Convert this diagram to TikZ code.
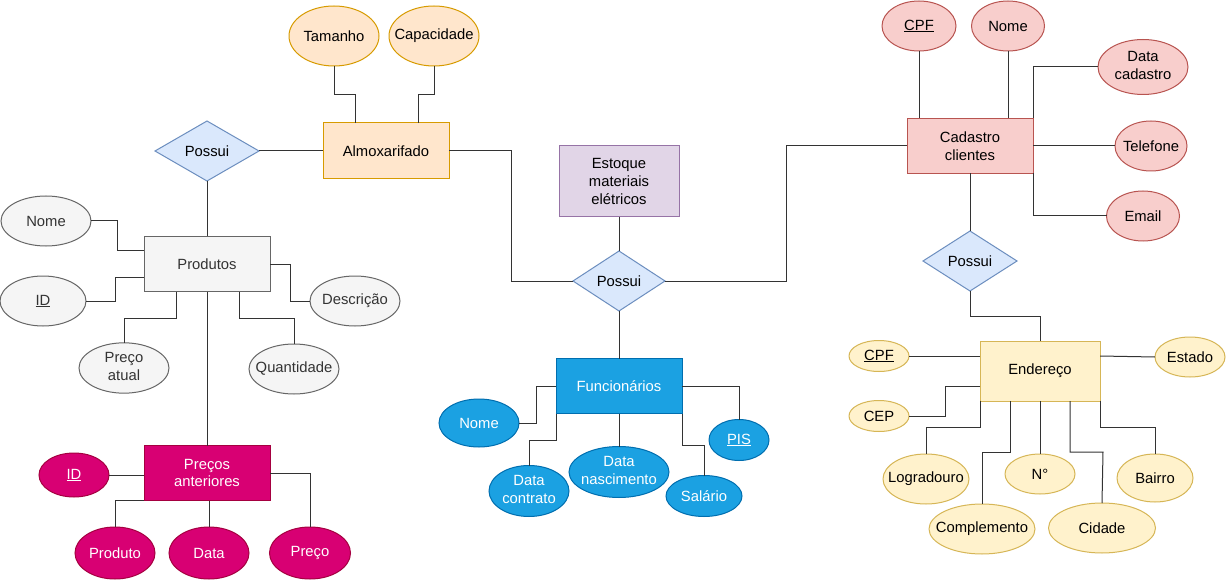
\documentclass[tikz,border=0pt]{standalone}
\usepackage{fontspec}
\setmainfont{Liberation Sans}
\usetikzlibrary{shapes.geometric}
\definecolor{orF}{HTML}{FFE6CC}\definecolor{orD}{HTML}{D79B00}
\definecolor{blF}{HTML}{DAE8FC}\definecolor{blD}{HTML}{6C8EBF}
\definecolor{grF}{HTML}{F5F5F5}\definecolor{grD}{HTML}{666666}\definecolor{grT}{HTML}{333333}
\definecolor{mgF}{HTML}{D80073}\definecolor{mgD}{HTML}{A50040}
\definecolor{puF}{HTML}{E1D5E7}\definecolor{puD}{HTML}{9673A6}
\definecolor{cyF}{HTML}{1BA1E2}\definecolor{cyD}{HTML}{006EAF}
\definecolor{rdF}{HTML}{F8CECC}\definecolor{rdD}{HTML}{B85450}
\definecolor{ylF}{HTML}{FFF2CC}\definecolor{ylD}{HTML}{D6B656}
\newcommand{\zw}[1]{\makebox[0pt]{#1}}
\newcommand{\zt}[2]{\makebox[0pt]{\begin{tabular}{@{}c@{}}#1\\#2\end{tabular}}}
\begin{document}
\begin{tikzpicture}[x=1pt,y=-1pt,
  font=\fontsize{14.8}{17.8}\selectfont,
  every node/.style={inner sep=0pt,outer sep=0pt,line width=1pt},
  ent/.style={rectangle,draw,align=center},
  att/.style={ellipse,draw},
  rel/.style={diamond,draw=blD,fill=blF},
  orn/.style={fill=orF,draw=orD},
  grn/.style={fill=grF,draw=grD,text=grT},
  mgn/.style={fill=mgF,draw=mgD,text=white},
  pun/.style={fill=puF,draw=puD},
  cyn/.style={fill=cyF,draw=cyD,text=white},
  rdn/.style={fill=rdF,draw=rdD},
  yln/.style={fill=ylF,draw=ylD},
  conn/.style={draw=black!80,line width=1pt}]
\fill[white] (0,0) rectangle (1226,580);
\useasboundingbox (0,0) rectangle (1226,580);
% Almoxarifado
\node[ent,orn,minimum width=126,minimum height=56] (alm) at (386,151) {Almoxarifado};
\node[att,orn,minimum width=90,minimum height=60] (tam) at (334,36) {\zw{Tamanho}};
\node[att,orn,minimum width=90,minimum height=60] (cap) at (434,36) {\zw{Capacidade}};
\node[rel,minimum width=104,minimum height=60] (p1) at (207,151) {\zw{Possui}};
% Produtos
\node[ent,grn,minimum width=126,minimum height=55] (prod) at (207,264) {Produtos};
\node[att,grn,minimum width=90,minimum height=50] (pnome) at (46,221) {\zw{Nome}};
\node[att,grn,minimum width=86,minimum height=50] (pid) at (43,301) {\zw{\underline{ID}}};
\node[att,grn,minimum width=90,minimum height=50] (desc) at (355,301) {\zw{Descrição}};
\node[att,grn,minimum width=90,minimum height=50] (patual) at (124,368) {\zt{Preço}{atual}};
\node[att,grn,minimum width=90,minimum height=50] (qtd) at (294,369) {\zw{Quantidade}};
% Precos anteriores
\node[ent,mgn,minimum width=126,minimum height=55] (pant) at (207,473) {Preços\\anteriores};
\node[att,mgn,minimum width=70,minimum height=44] (pid2) at (74,475) {\zw{\underline{ID}}};
\node[att,mgn,minimum width=80,minimum height=52] (prodm) at (115,553) {\zw{Produto}};
\node[att,mgn,minimum width=80,minimum height=52] (dat) at (209,553) {\zw{Data}};
\node[att,mgn,minimum width=81,minimum height=52] (preco) at (310,553) {\zw{Preço}};
% Centro
\node[ent,pun,minimum width=120,minimum height=71] (est) at (619,181.5) {Estoque\\materiais\\elétricos};
\node[rel,minimum width=92,minimum height=60] (p2) at (619,281) {\zw{Possui}};
\node[ent,cyn,minimum width=126,minimum height=55] (fun) at (619,386) {Funcionários};
\node[att,cyn,minimum width=80,minimum height=48] (fnome) at (479,423) {\zw{Nome}};
\node[att,cyn,minimum width=80,minimum height=51] (dcon) at (529,491) {\zt{Data}{contrato}};
\node[att,cyn,minimum width=100,minimum height=51] (dnasc) at (619,472) {\zt{Data}{nascimento}};
\node[att,cyn,minimum width=76,minimum height=41] (sal) at (704,496) {\zw{Salário}};
\node[att,cyn,minimum width=60,minimum height=41] (pis) at (739,440) {\zw{\underline{PIS}}};
% Cadastro clientes
\node[ent,rdn,minimum width=126,minimum height=55] (cad) at (970,146) {Cadastro\\clientes};
\node[att,rdn,minimum width=74,minimum height=50] (cpf) at (919,26) {\zw{\underline{CPF}}};
\node[att,rdn,minimum width=73,minimum height=50] (cnome) at (1008,26) {\zw{Nome}};
\node[att,rdn,minimum width=90,minimum height=55] (dcad) at (1143,67) {\zt{Data}{cadastro}};
\node[att,rdn,minimum width=72,minimum height=50] (tel) at (1151,146) {\zw{Telefone}};
\node[att,rdn,minimum width=73,minimum height=50] (email) at (1143,216) {\zw{Email}};
\node[rel,minimum width=94,minimum height=60] (p3) at (970,261) {\zw{Possui}};
% Endereco
\node[ent,yln,minimum width=120,minimum height=60] (end) at (1040,371) {Endereço};
\node[att,yln,minimum width=60,minimum height=31] (ecpf) at (879,356) {\zw{\underline{CPF}}};
\node[att,yln,minimum width=60,minimum height=31] (cep) at (879,416) {\zw{CEP}};
\node[att,yln,minimum width=70,minimum height=40] (estado) at (1190,357) {\zw{Estado}};
\node[att,yln,minimum width=86,minimum height=50] (logr) at (926,479) {\zw{Logradouro}};
\node[att,yln,minimum width=106,minimum height=50] (comp) at (982,529) {\zw{Complemento}};
\node[att,yln,minimum width=70,minimum height=40] (num) at (1040,474) {\zw{N°}};
\node[att,yln,minimum width=107,minimum height=50] (cid) at (1102,528) {\zw{Cidade}};
\node[att,yln,minimum width=76,minimum height=48] (bai) at (1155,478) {\zw{Bairro}};
% Connectors
\begin{scope}[conn]
\draw (tam.south) |- (355,95) -- (alm.north -| 355,0);
\draw (cap.south) |- (418,95) -- (alm.north -| 418,0);
\draw (p1.east) -- (alm.west);
\draw (p1.south) -- (prod.north);
\draw (alm.east) -| (p2.west -| 511,0) -- (p2.west);
\draw (est.south) -- (p2.north);
\draw (p2.east) -| (cad.west -| 786,0) -- (cad.west);
\draw (p2.south) -- (fun.north);
\draw (cad.south) -- (p3.north);
\draw (p3.south) |- (end.north |- 0,316) -- (end.north);
\draw (cpf.south) -- (cpf.south |- cad.north);
\draw (cnome.south) -- (cnome.south |- cad.north);
\draw (dcad.west) -| (cad.north east);
\draw (cad.east) -- (tel.west);
\draw (cad.south east) |- (email.west);
% Produtos
\draw (pnome.east) -| (117,250) -- (prod.west |- 0,250);
\draw (pid.east) -| (115,277) -- (prod.west |- 0,277);
\draw (prod.east) -| (290,301) -- (desc.west);
\draw (prod.south -| 176,0) |- (124,318) -- (patual.north);
\draw (prod.south -| 239,0) |- (294,318) -- (qtd.north);
\draw (prod.south) -- (pant.north);
\draw (pid2.east) -- (pid2.east -| pant.west);
\draw (pant.south west) -| (prodm.north);
\draw (pant.south -| dat.north) -- (dat.north);
\draw (pant.east) -| (preco.north);
% Funcionarios
\draw (fun.west) -| (536,423) -- (fnome.east);
\draw (fun.south west) |- (529,440) -- (dcon.north);
\draw (fun.south) -- (dnasc.north);
\draw (fun.south east) |- (704,445) -- (sal.north);
\draw (fun.east) -| (pis.north);
% Endereco
\draw (ecpf.east) -- (ecpf.east -| end.west);
\draw (end.west |- 0,386) -| (945,416) -- (cep.east);
\draw (end.east |- 0,356) -- (estado.west);
\draw (end.south west) |- (926,427) -- (logr.north);
\draw (end.south -| 1010,0) |- (982,452) -- (comp.north);
\draw (end.south) -- (num.north);
\draw (end.south -| 1070,0) |- (1103,452) -- (cid.north);
\draw (end.south east) |- (1155,427) -- (bai.north);
\end{scope}
\end{tikzpicture}
\end{document}
